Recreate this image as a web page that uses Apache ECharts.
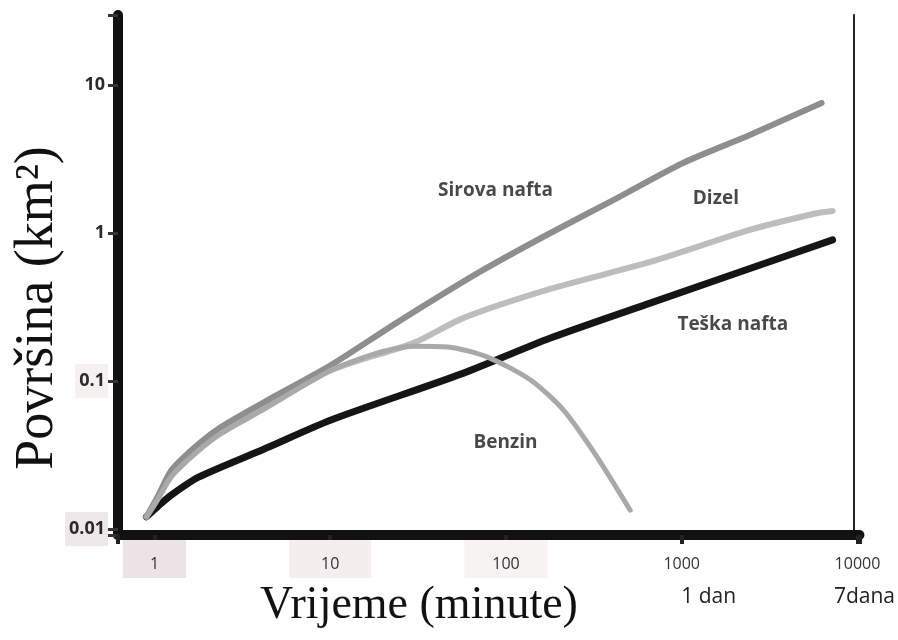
<!DOCTYPE html>
<html><head><meta charset="utf-8">
<script src="https://cdn.jsdelivr.net/npm/echarts@6/dist/echarts.min.js"></script>
<style>html,body{margin:0;padding:0;background:#fff}#c{width:898px;height:640px}</style>
</head><body><div id="c"></div>
<script>
// ---- data ----
const xTickValues = [1, 10, 100, 1000, 10000];
const xTickLabels = ['1', '10', '100', '1000', '10000'];
const xSubLabels  = ['', '', '', '1 dan', '7dana'];
const yTickValues = [0.01, 0.1, 1, 10];
const yTickLabels = ['0.01', '0.1', '1', '10'];

const sirovaTime = [0.9, 1.05, 1.25, 1.78, 2.4, 4.21, 10.1, 24.2, 71.7, 179, 429, 1016, 2440, 6250];
const sirovaArea = [0.0121, 0.0168, 0.025, 0.0375, 0.049, 0.072, 0.128, 0.25, 0.55, 1.0, 1.72, 2.97, 4.59, 7.56];
const dizelTime  = [0.9, 1.05, 1.25, 1.78, 2.4, 4.21, 10.1, 29.9, 57.4, 179, 661, 2440, 5850, 7220];
const dizelArea  = [0.0121, 0.0162, 0.0228, 0.034, 0.0445, 0.065, 0.118, 0.181, 0.267, 0.419, 0.637, 1.05, 1.36, 1.41];
const benzinTime = [0.9, 1.05, 1.25, 1.78, 2.4, 4.21, 10.1, 19.4, 29.9, 46.6, 78.5, 138, 212, 330, 509];
const benzinArea = [0.0121, 0.0162, 0.0228, 0.034, 0.0445, 0.065, 0.118, 0.157, 0.172, 0.170, 0.145, 0.1016, 0.0637, 0.0306, 0.0134];
const teskaTime  = [0.9, 1.05, 1.25, 1.78, 4.21, 10.1, 57.4, 179, 661, 7220];
const teskaArea  = [0.0121, 0.0143, 0.0170, 0.0224, 0.0347, 0.0545, 0.113, 0.195, 0.336, 0.898];

const seriesNames = ['Sirova nafta', 'Dizel', 'Teška nafta', 'Benzin'];
const labelTime   = [87.2, 1564, 1954, 99.4];
const labelArea   = [1.92, 1.72, 0.239, 0.0381];

const xTitle = 'Vrijeme (minute)';
const yTitle = 'Površina (km²)';

// ---- helpers ----
const zip = (a, b) => a.map((v, i) => [v, b[i]]);
const idxOf = (arr, v) => arr.findIndex(t => Math.abs(Math.log10(t) - Math.log10(v)) < 1e-6);

const chart = echarts.init(document.getElementById('c'), null, {renderer: 'canvas'});

const xRich = {};
const xBg = ['#ebe3e6', '#f4eeef', '#f7f3f3', 'transparent', 'transparent'];
const xPadH = [27, 32, 28, 0, 0];
xTickLabels.forEach((l, i) => {
  xRich['t' + i] = {fontFamily: 'Open Sans', fontSize: 16, color: '#333', lineHeight: 16,
    backgroundColor: xBg[i], padding: [16, xPadH[i], 6, xPadH[i]]};
});
const subRich = {
  s3: {fontFamily: 'Open Sans', fontSize: 21, color: '#222', lineHeight: 26, padding: [0, 0, 0, 54]},
  s4: {fontFamily: 'Open Sans', fontSize: 21, color: '#222', lineHeight: 26, padding: [0, 0, 0, 14]}
};

const yRich = {};
const yBg = ['#eee8ea', '#f6f1f1', 'transparent', 'transparent'];
yTickLabels.forEach((l, i) => {
  yRich['b' + i] = {fontFamily: 'Open Sans', fontWeight: 'bold', fontSize: 18, color: '#2a2a2a',
    lineHeight: 18, backgroundColor: yBg[i], padding: [8, 3, 8, 4]};
});

const lineSeries = (name, t, a, color, width, z) => ({
  name, type: 'line', data: zip(t, a), smooth: 0.25, symbol: 'none', z,
  lineStyle: {color, width, cap: 'round', join: 'round'}, silent: true
});

const option = {
  animation: false,
  backgroundColor: '#ffffff',
  grid: {left: 118, right: 38, top: 15, bottom: 105, containLabel: false},
  xAxis: [{
    type: 'log', min: 0.62, max: 10260, logBase: 10,
    axisLine: {show: true, lineStyle: {color: '#111', width: 10}},
    axisTick: {show: true, length: 9, lineStyle: {color: '#222', width: 4}},
    splitLine: {show: false}, minorTick: {show: false},
    axisLabel: {
      margin: 16, showMinLabel: true, showMaxLabel: true,
      formatter: v => {
        const i = idxOf(xTickValues, v);
        if (i < 0) return '';
        return '{t' + i + '|' + xTickLabels[i] + '}';
      },
      rich: xRich
    }
  }, {
    type: 'log', min: 0.62, max: 10260, logBase: 10, position: 'bottom',
    axisLine: {show: false}, axisTick: {show: false}, splitLine: {show: false},
    axisLabel: {
      margin: 49, showMinLabel: true, showMaxLabel: true,
      formatter: v => {
        const i = idxOf(xTickValues, v);
        if (i < 0 || !xSubLabels[i]) return '';
        return '{s' + i + '|' + xSubLabels[i] + '}';
      },
      rich: subRich
    }
  }],
  yAxis: [{
    type: 'log', min: 0.00911, max: 29.7, logBase: 10, position: 'left',
    axisLine: {show: true, lineStyle: {color: '#111', width: 10}},
    axisTick: {show: true, length: 10, lineStyle: {color: '#333', width: 3}},
    splitLine: {show: false},
    axisLabel: {
      margin: 10,
      formatter: v => {
        const i = idxOf(yTickValues, v);
        if (i < 0) return '';
        return '{b' + i + '|' + yTickLabels[i] + '}';
      },
      rich: yRich
    }
  }, {
    type: 'log', min: 0.00911, max: 29.7, logBase: 10, position: 'right', offset: -6,
    axisLine: {show: true, lineStyle: {color: '#222', width: 2}},
    axisTick: {show: false}, axisLabel: {show: false}, splitLine: {show: false}
  }],
  series: [
    lineSeries(seriesNames[2], teskaTime, teskaArea, '#151515', 7, 2),
    lineSeries(seriesNames[1], dizelTime, dizelArea, '#bdbdbd', 6, 3),
    lineSeries(seriesNames[0], sirovaTime, sirovaArea, '#8e8e8e', 6, 4),
    lineSeries(seriesNames[3], benzinTime, benzinArea, '#a9a9a9', 5, 5),
    {
      type: 'scatter', symbolSize: 0, silent: true, z: 6,
      data: seriesNames.map((n, i) => ({name: n, value: [labelTime[i], labelArea[i]]})),
      label: {show: true, position: 'inside', formatter: p => p.name,
        fontFamily: 'Open Sans', fontWeight: 'bold', fontSize: 19, color: '#1a1a1a'}
    }
  ],
  graphic: [
    {type: 'text', x: 419, y: 606, style: {text: xTitle, font: '46px "Liberation Serif"', fill: '#111',
      textAlign: 'center', textVerticalAlign: 'middle'}},
    {type: 'text', x: 38, y: 308, rotation: Math.PI / 2, style: {text: yTitle, font: '54px "Liberation Serif"', fill: '#111',
      textAlign: 'center', textVerticalAlign: 'middle'}}
  ]
};
chart.setOption(option);
</script>
</body></html>
